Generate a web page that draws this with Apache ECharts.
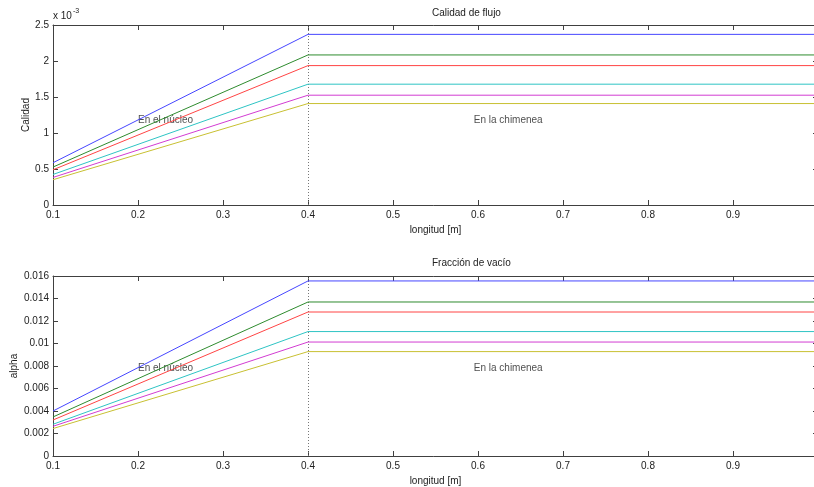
<!DOCTYPE html>
<html>
<head>
<meta charset="utf-8">
<script src="https://cdn.jsdelivr.net/npm/echarts@6/dist/echarts.min.js"></script>
<style>
  html, body { margin: 0; padding: 0; background: #fff; }
  #chart { width: 814px; height: 487px; }
</style>
</head>
<body>
<div id="chart"></div>
<script>
// puntos de longitud: entrada, fin del nucleo, fin de la chimenea
const longitud = [0.1, 0.4, 1.0];
// calidad (x 10^-3) a la entrada y a la salida del nucleo
const calidadEntrada = [0.587, 0.527, 0.489, 0.424, 0.383, 0.351];
const calidadSalida = [2.37, 2.084, 1.936, 1.678, 1.525, 1.409];
// fraccion de vacio
const alphaEntrada = [0.0040, 0.00347, 0.0032, 0.00282, 0.00264, 0.00244];
const alphaSalida = [0.01556, 0.01369, 0.0128, 0.01106, 0.01013, 0.00928];
const colores = ['#4646ff', '#2e8b2e', '#ff4444', '#2ec4c4', '#d23cd2', '#c8c032'];

const chart = echarts.init(document.getElementById('chart'));
const fnt = 'Liberation Sans, Arial, sans-serif';
const axisCol = '#404040';

function ejeX(gi, pos, labels) {
  return {
    type: 'value', gridIndex: gi, position: pos, min: 0.1, max: 1.0, interval: 0.1,
    name: labels ? 'longitud [m]' : '', nameLocation: 'middle', nameGap: 20,
    nameMoveOverlap: false,
    nameTextStyle: { fontFamily: fnt, fontSize: 10, color: '#222' },
    axisLine: { show: true, onZero: false, lineStyle: { color: axisCol, width: 1 } },
    axisTick: { show: true, inside: true, length: 5, lineStyle: { color: axisCol } },
    axisLabel: { show: labels, showMaxLabel: false, margin: 5, fontFamily: fnt, fontSize: 10, color: '#222' },
    splitLine: { show: false }
  };
}
function ejeY(gi, pos, labels, max, interval, nombre, gap) {
  return {
    type: 'value', gridIndex: gi, position: pos, min: 0, max: max, interval: interval,
    name: nombre, nameLocation: 'middle', nameGap: gap, nameRotate: 90,
    nameMoveOverlap: false,
    nameTextStyle: { fontFamily: fnt, fontSize: 10, color: '#222' },
    axisLine: { show: true, onZero: false, lineStyle: { color: axisCol, width: 1 } },
    axisTick: { show: true, inside: true, length: 5, lineStyle: { color: axisCol } },
    axisLabel: { show: labels, margin: 4, fontFamily: fnt, fontSize: 10, color: '#222' },
    splitLine: { show: false }
  };
}

const series = [];
// indices: 0/1 = ejes inferior e izquierdo de cada grafica
function lineas(entrada, salida, ai) {
  entrada.forEach((v, i) => {
    const s = {
      type: 'line', xAxisIndex: ai, yAxisIndex: ai, showSymbol: false, silent: true,
      lineStyle: { color: colores[i], width: 1 }, itemStyle: { color: colores[i] },
      data: [[longitud[0], v], [longitud[1], salida[i]], [longitud[2], salida[i]]],
      z: 3
    };
    if (i === 0) {
      s.markLine = {
        silent: true, symbol: 'none', label: { show: false },
        lineStyle: { type: [1, 2], color: '#777', width: 1 },
        data: [{ xAxis: longitud[1] }], z: 1
      };
    }
    series.push(s);
  });
}
lineas(calidadEntrada, calidadSalida, 0);
lineas(alphaEntrada, alphaSalida, 1);

function texto(ai, x, y, t) {
  series.push({
    type: 'scatter', xAxisIndex: ai, yAxisIndex: ai, symbolSize: 0, silent: true,
    data: [[x, y]],
    label: { show: true, position: 'right', distance: 0, formatter: t, fontFamily: fnt, fontSize: 10, color: '#222' }
  });
}
texto(0, 0.2, 1.18, 'En el núcleo');
texto(0, 0.595, 1.18, 'En la chimenea');
texto(1, 0.2, 0.0078, 'En el núcleo');
texto(1, 0.595, 0.0078, 'En la chimenea');

chart.setOption({
  backgroundColor: '#fff',
  animation: false,
  grid: [
    { left: 53, right: -4, top: 25, height: 180, containLabel: false, outerBoundsMode: 'none' },
    { left: 53, right: -4, top: 276, height: 180, containLabel: false, outerBoundsMode: 'none' }
  ],
  xAxis: [ejeX(0, 'bottom', true), ejeX(1, 'bottom', true), ejeX(0, 'top', false), ejeX(1, 'top', false)],
  yAxis: [
    ejeY(0, 'left', true, 2.5, 0.5, 'Calidad', 22),
    ejeY(1, 'left', true, 0.016, 0.002, 'alpha', 34),
    ejeY(0, 'right', false, 2.5, 0.5, '', 0),
    ejeY(1, 'right', false, 0.016, 0.002, '', 0)
  ],
  graphic: [
    { type: 'text', left: 432, top: 8, style: { text: 'Calidad de flujo', font: '10px ' + fnt, fill: '#222', textAlign: 'center' } },
    { type: 'text', left: 432, top: 258, style: { text: 'Fracción de vacío', font: '10px ' + fnt, fill: '#222', textAlign: 'center' } },
    { type: 'text', left: 53, top: 11, style: { text: 'x 10', font: '10px ' + fnt, fill: '#222' } },
    { type: 'text', left: 73, top: 8, style: { text: '-3', font: '7px ' + fnt, fill: '#222' } }
  ],
  series: series
});
</script>
</body>
</html>
